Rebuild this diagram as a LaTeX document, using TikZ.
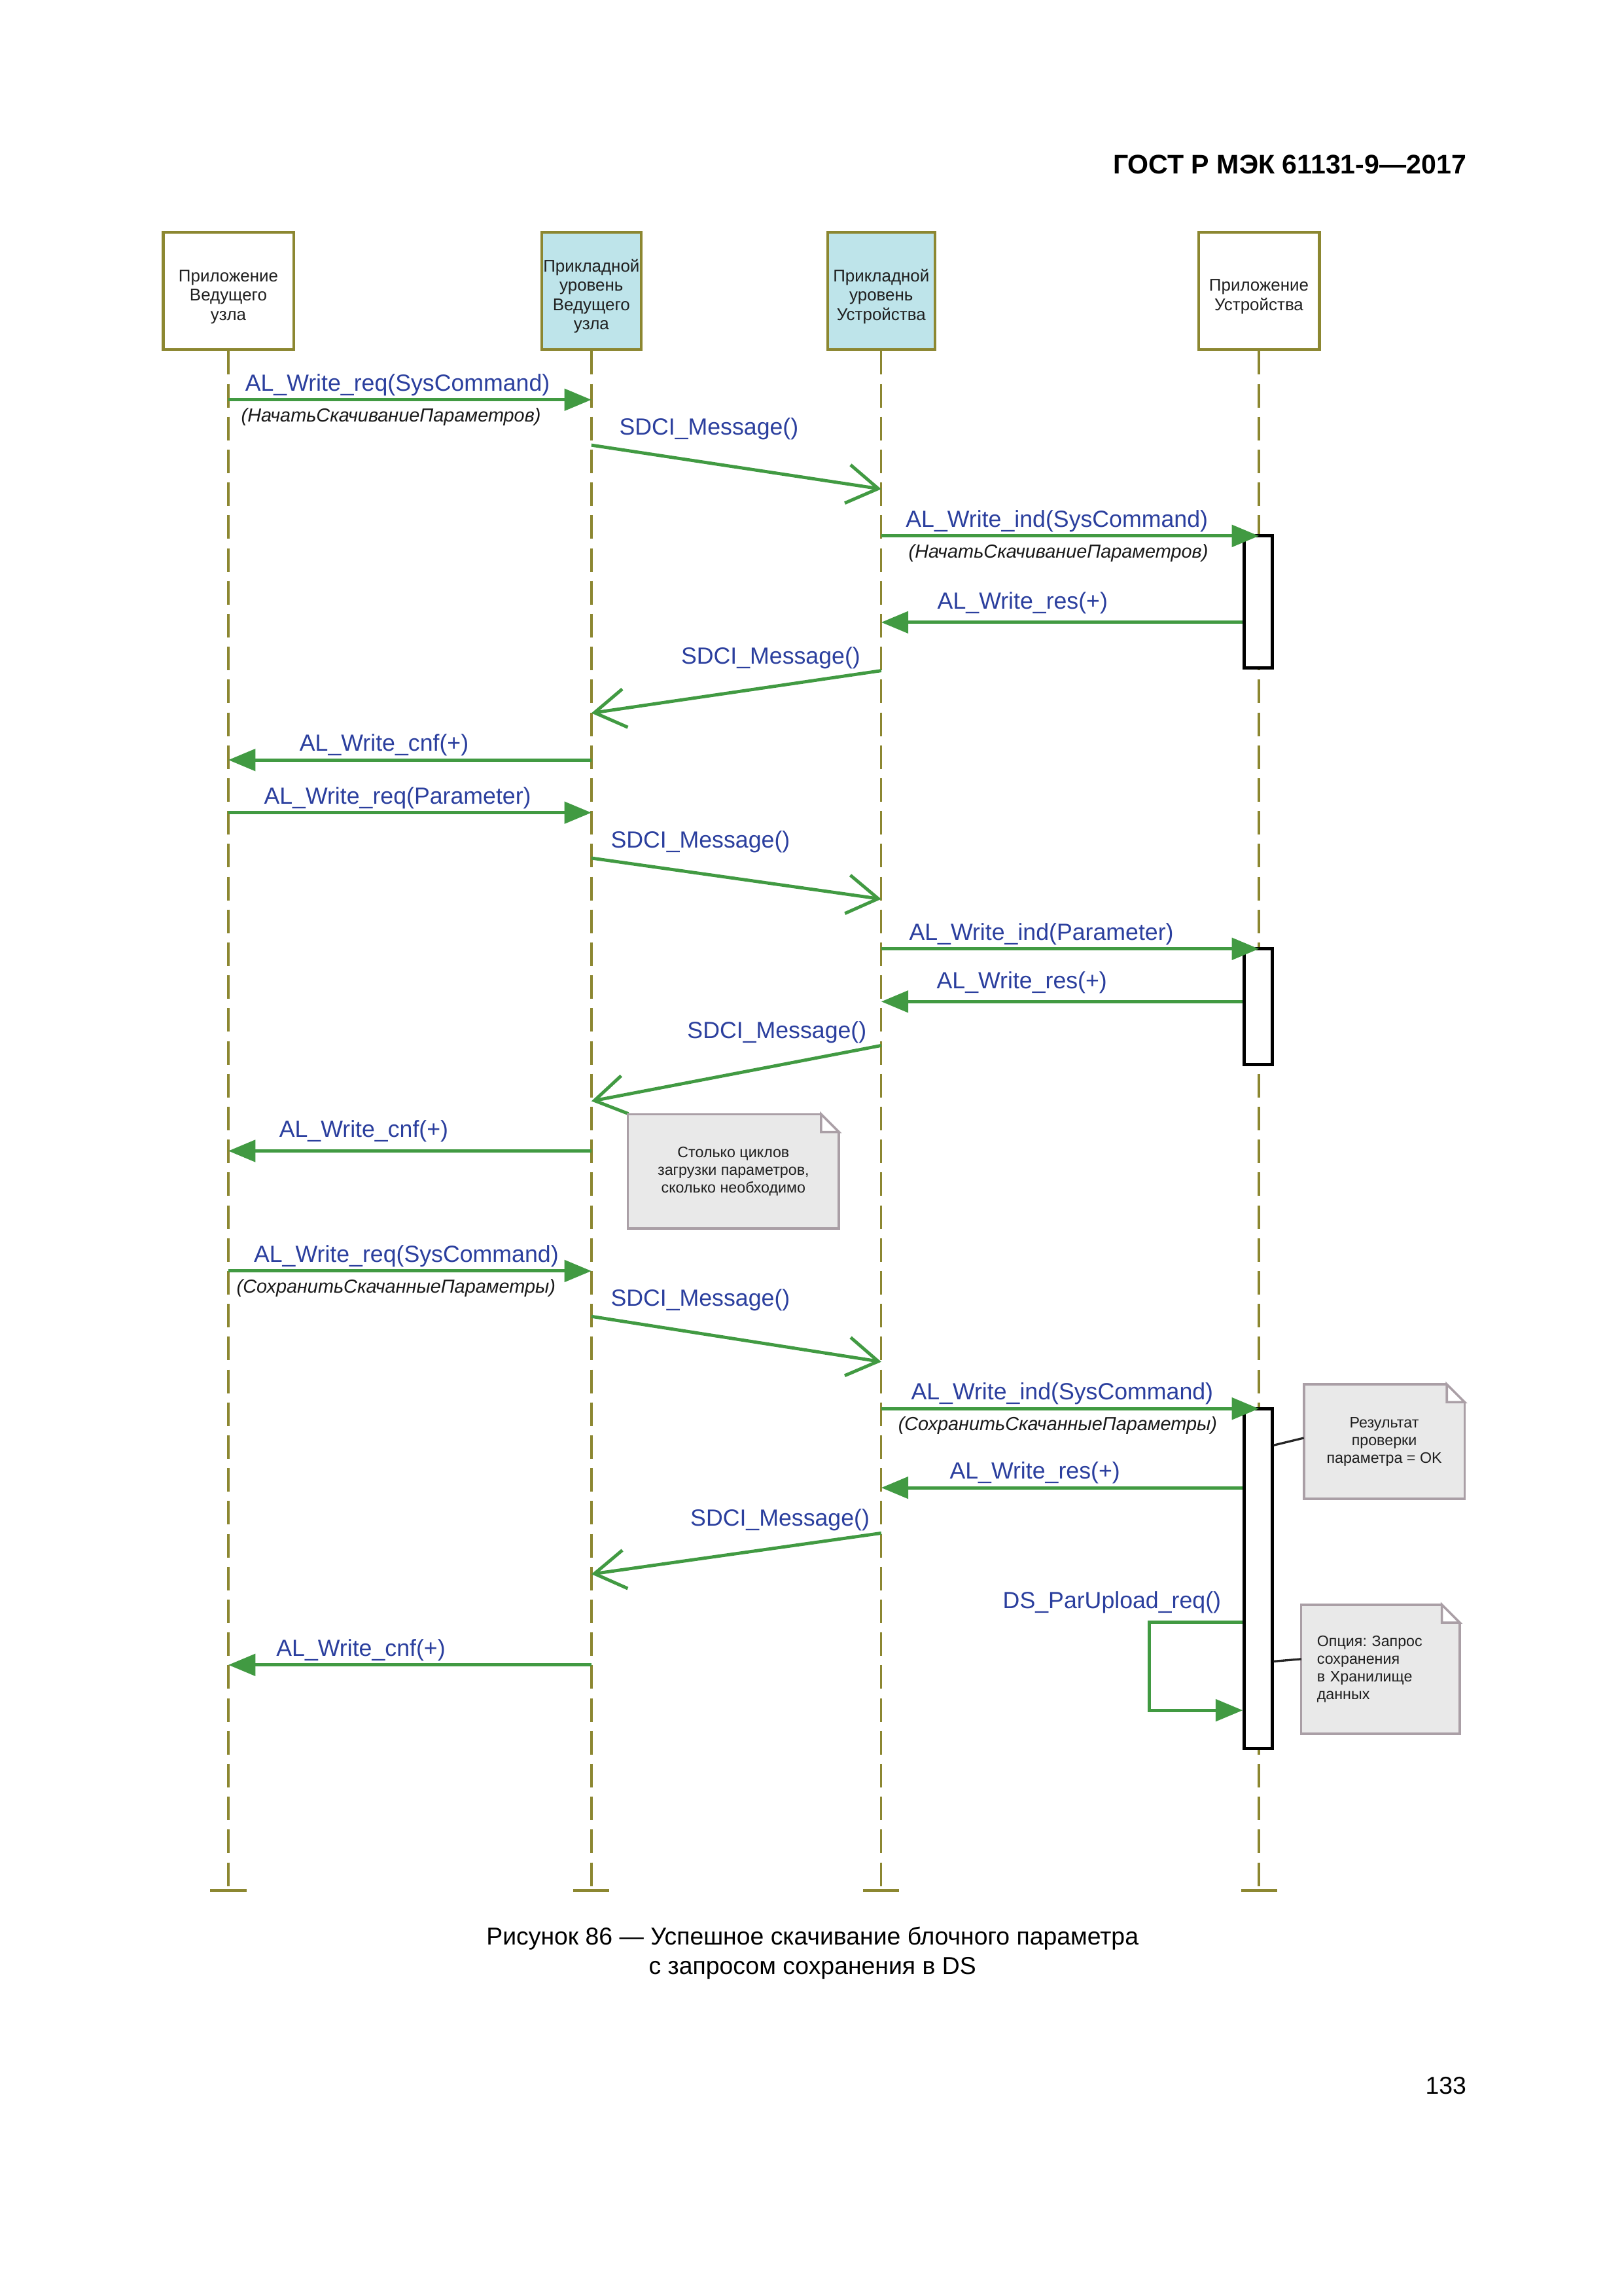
\documentclass[tikz,border=0pt]{standalone}
\usepackage{fontspec}
\setmainfont{Liberation Sans}
\frenchspacing
\usetikzlibrary{arrows.meta, fit, positioning}
\definecolor{lineolive}{HTML}{8C8731}
\definecolor{headblue}{HTML}{BEE4EA}
\definecolor{msggreen}{HTML}{419A42}
\definecolor{msgblue}{HTML}{2B3F9E}
\definecolor{notefill}{HTML}{E9E9E9}
\definecolor{noteline}{HTML}{AA9FA6}
\tikzstyle{headbox} = [rectangle, draw=lineolive, line width=0.35mm, minimum height=15.15mm, align=center, text=black!88, font=\fontsize{6.25}{7.1}\selectfont, inner sep=0pt]
\tikzstyle{lifeline} = [draw=lineolive, line width=0.28mm, dash pattern=on 3.05mm off 1.2mm]
\tikzstyle{lifeend} = [draw=lineolive, line width=0.45mm]
\tikzstyle{actbar} = [rectangle, draw=black, fill=white, line width=0.4mm, inner sep=0pt]
\tikzstyle{msg} = [draw=msggreen, line width=0.42mm, -{Triangle[length=3.5mm,width=2.8mm]}]
\tikzstyle{sdci} = [draw=msggreen, line width=0.42mm, -{Straight Barb[length=4mm,width=5mm]}]
\tikzstyle{msgtext} = [font=\fontsize{8.6}{10}\selectfont, text=msgblue, inner sep=0pt]
\tikzstyle{lbl} = [msgtext, anchor=base, yshift=1.15mm]
\tikzstyle{fwdlbl} = [msgtext, pos=0, anchor=base west, yshift=1.3mm]
\tikzstyle{backlbl} = [msgtext, pos=0, anchor=base east, yshift=0.9mm]
\tikzstyle{sublbl} = [font=\fontsize{6.95}{8}\selectfont\itshape, text=black!90, anchor=base, yshift=-2.85mm, inner sep=0pt]
\tikzstyle{notebox} = [rectangle, draw=noteline, fill=notefill, line width=0.3mm, text=black!88, font=\fontsize{5.6}{6.5}\selectfont, align=center, inner sep=1mm, outer sep=0pt]
\tikzstyle{notelink} = [draw=black!85, line width=0.28mm]
\tikzstyle{pagetext} = [font=\fontsize{9}{11}\selectfont, inner sep=0pt]
\newcommand{\headstrut}{\rule{0pt}{8.5pt}}
\newcommand{\notefold}[1]{%
  \fill[white] ([xshift=-2.3mm,yshift=.3mm]#1.north east) rectangle ([xshift=.3mm,yshift=-2.3mm]#1.north east);
  \filldraw[fill=white, draw=noteline, line width=0.3mm] ([xshift=-2.3mm]#1.north east) -- ([xshift=-2.3mm,yshift=-2.3mm]#1.north east) -- ([yshift=-2.3mm]#1.north east) -- cycle;}

\begin{document}
\begin{tikzpicture}[x=0.18941mm, y=-0.18941mm]
  \fill[white] (0,0) rectangle (1109,1568);
  \useasboundingbox (0,0) rectangle (1109,1568);
  \node[pagetext, anchor=base east, font=\fontsize{9.9}{11}\selectfont\bfseries] (gost) at (1002,118.5) {ГОСТ Р МЭК 61131-9—2017};

  \node[headbox, fill=white, minimum width=16.86mm] (mapp) at (156,198.8) {\headstrut Приложение\\Ведущего\\узла};
  \node[headbox, fill=headblue, minimum width=12.88mm] (mal) at (404,198.8) {\headstrut Прикладной\\уровень\\Ведущего\\узла};
  \node[headbox, fill=headblue, minimum width=13.9mm] (dal) at (602,198.8) {\headstrut Прикладной\\уровень\\Устройства};
  \node[headbox, fill=white, minimum width=15.65mm] (dapp) at (860,198.8) {\headstrut Приложение\\Устройства};
  \foreach \h in {mapp, mal, dal, dapp} {
    \coordinate (\h-end) at (\h |- 0,1291);
    \draw[lifeline] (\h.south) -- (\h-end);
    \draw[lifeend] ([xshift=-2.33mm]\h-end) -- ([xshift=2.33mm]\h-end);
  }

  \node[actbar, fit={(850,366) (869,456)}] (bar1) {};
  \node[actbar, fit={(850,648) (869,727)}] (bar2) {};
  \node[actbar, fit={(850,962) (869,1194)}] (bar3) {};

  \draw[msg] (mapp |- 0,273) -- node[lbl, pos=.466] {AL\_Write\_req(SysCommand)} node[sublbl, pos=.448] {(НачатьСкачиваниеПараметров)} (mal |- 0,273);
  \draw[sdci] (mal |- 0,304) -- node[fwdlbl, xshift=3.4mm] {SDCI\_Message()} (dal |- 0,334);
  \draw[msg] (dal |- 0,366) -- node[lbl, pos=.465] {AL\_Write\_ind(SysCommand)} node[sublbl, pos=.469] {(НачатьСкачиваниеПараметров)} (dapp |- 0,366);
  \draw[msg] (bar1.west |- 0,425) -- node[lbl, pos=.609, yshift=.6mm] {AL\_Write\_res(+)} (dal |- 0,425);
  \draw[sdci] (dal |- 0,458) -- node[backlbl, xshift=-2.5mm] {SDCI\_Message()} (mal |- 0,487);
  \draw[msg] (mal |- 0,519) -- node[lbl, pos=.571] {AL\_Write\_cnf(+)} (mapp |- 0,519);

  \draw[msg] (mapp |- 0,555) -- node[lbl, pos=.466] {AL\_Write\_req(Parameter)} (mal |- 0,555);
  \draw[sdci] (mal |- 0,586) -- node[fwdlbl, xshift=2.3mm] {SDCI\_Message()} (dal |- 0,614);
  \draw[msg] (dal |- 0,648) -- node[lbl, pos=.424] {AL\_Write\_ind(Parameter)} (dapp |- 0,648);
  \draw[msg] (bar2.west |- 0,684) -- node[lbl, pos=.611, yshift=.5mm] {AL\_Write\_res(+)} (dal |- 0,684);
  \draw[sdci] (dal |- 0,714) -- node[backlbl, xshift=-1.7mm] {SDCI\_Message()} (mal |- 0,752);
  \draw[msg] (mal |- 0,786) -- node[lbl, pos=.627, yshift=.6mm] {AL\_Write\_cnf(+)} (mapp |- 0,786);

  \node[notebox, minimum width=27.3mm, minimum height=14.8mm] (cycles) at (501,800) {Столько циклов\\загрузки параметров,\\сколько необходимо};
  \notefold{cycles}

  \draw[msg] (mapp |- 0,868) -- node[lbl, pos=.49] {AL\_Write\_req(SysCommand)} node[sublbl, pos=.462] {(СохранитьСкачанныеПараметры)} (mal |- 0,868);
  \draw[sdci] (mal |- 0,899) -- node[fwdlbl, xshift=2.3mm] {SDCI\_Message()} (dal |- 0,930);
  \draw[msg] (dal |- 0,962) -- node[lbl, pos=.479] {AL\_Write\_ind(SysCommand)} node[sublbl, pos=.467] {(СохранитьСкачанныеПараметры)} (dapp |- 0,962);
  \draw[msg] (bar3.west |- 0,1016) -- node[lbl, pos=.575] {AL\_Write\_res(+)} (dal |- 0,1016);
  \draw[sdci] (dal |- 0,1047) -- node[backlbl, xshift=-1.3mm] {SDCI\_Message()} (mal |- 0,1075);
  \draw[msg] (bar3.west |- 0,1108) node[msgtext, anchor=base east, xshift=-2.6mm, yshift=1.8mm] {DS\_ParUpload\_req()} -- ++(-64,0) |- (bar3.west |- 0,1168);
  \draw[msg] (mal |- 0,1137) -- node[lbl, pos=.635] {AL\_Write\_cnf(+)} (mapp |- 0,1137);

  \node[notebox, minimum width=20.8mm, minimum height=14.8mm] (check) at (945.6,984.5) {Результат\\проверки\\параметра = OK};
  \notefold{check}
  \node[notebox, minimum width=20.5mm, minimum height=16.7mm, align=left, text width=16.4mm] (option) at (943,1140) {Опция: Запрос\\сохранения\\в Хранилище\\данных};
  \notefold{option}
  \draw[notelink] (bar3.east |- 0,987) -- (check.west |- 0,982);
  \draw[notelink] (bar3.east |- 0,1134.6) -- (option.west |- 0,1133);

  \node[pagetext, anchor=base] (caption) at (555,1328.2) {Рисунок 86 — Успешное скачивание блочного параметра};
  \node[pagetext, anchor=base] (caption2) at (555,1348.3) {с запросом сохранения в DS};
  \node[pagetext, anchor=base east] (page) at (1002,1430) {133};
\end{tikzpicture}
\end{document}
